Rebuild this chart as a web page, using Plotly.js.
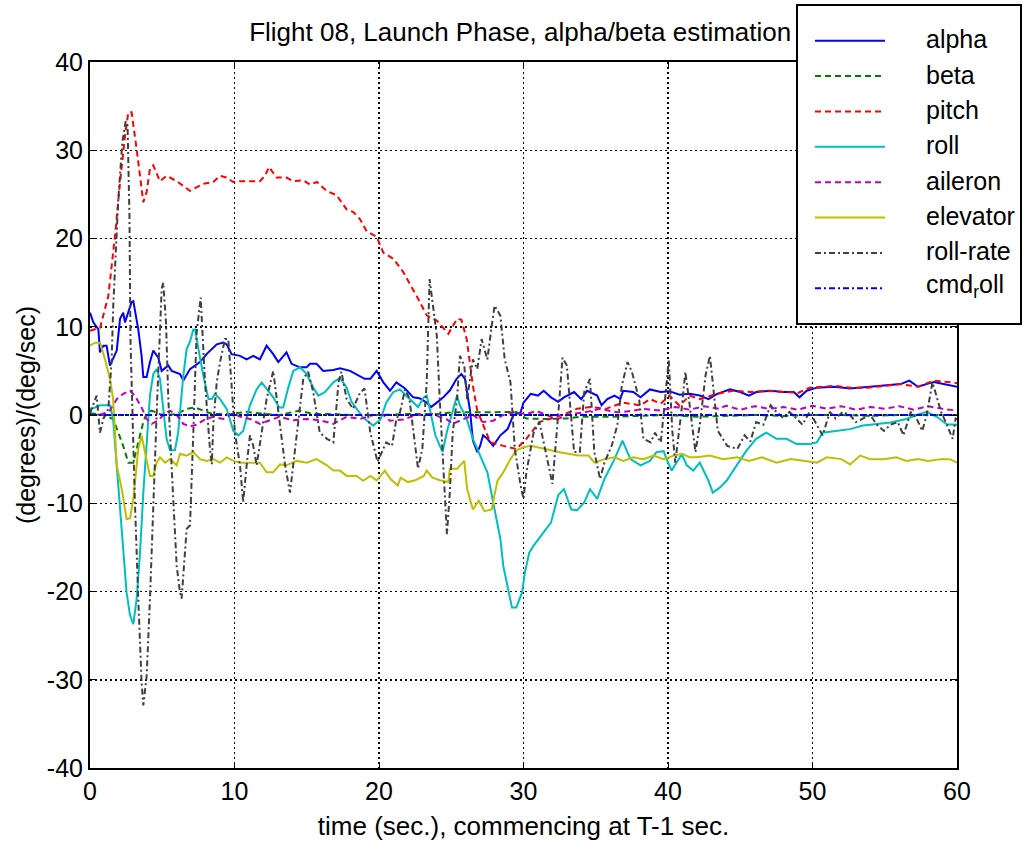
<!DOCTYPE html>
<html>
<head>
<meta charset="utf-8">
<script src="https://cdn.plot.ly/plotly-3.0.1.min.js"></script>
<style>
html,body{margin:0;padding:0;background:#fff;}
#chart{width:1024px;height:848px;}
</style>
</head>
<body>
<div id="chart"></div>
<script>
// ---- data ----
const seriesNames = ["alpha", "beta", "pitch", "roll", "aileron", "elevator", "roll-rate", "cmd_roll"];

const alphaT = [0,0.23,0.58,0.69,0.92,1.15,1.38,1.61,1.85,2.08,2.3,2.42,2.65,2.88,3.0,3.34,3.57,3.69,3.92,4.15,4.38,4.73,4.96,5.42,5.65,6.23,6.46,6.92,7.61,8.07,8.77,9.23,9.46,9.8,10.38,10.84,11.3,11.76,12.22,12.68,13.03,13.6,13.95,14.53,14.99,15.22,15.68,16.14,16.84,17.3,18.0,18.45,19.0,19.4,19.84,20.3,20.76,21.2,21.8,22.37,22.8,23.3,23.6,24.0,24.45,24.91,25.37,25.7,25.95,26.3,26.5,26.8,27.0,27.2,27.5,27.9,28.4,28.9,29.3,29.8,30.0,30.5,31.0,31.4,31.9,32.4,32.8,33.5,34.0,34.4,35.1,35.4,35.8,36.3,36.7,36.9,37.6,38.1,38.75,39.5,40.1,40.8,41.5,42.2,42.8,43.4,44.3,45.0,45.6,46.1,47.1,48.0,48.7,49.1,49.6,50.3,51.5,52.6,53.8,54.95,56.1,56.7,57.3,58.4,59.1,60];
const alphaV = [11.6,10.5,9.7,7.1,7.85,7.85,5.6,6.5,7.3,10.9,11.6,10.5,11.6,12.8,12.9,9.7,6.7,4.3,4.3,6.0,7.3,6.5,5.0,5.6,5.0,4.65,3.9,5.2,6.0,6.9,8.0,8.2,8.0,6.9,6.7,6.3,6.7,6.3,7.85,6.9,6.0,7.1,5.8,5.4,5.4,5.8,5.8,5.0,5.1,5.3,5.0,4.6,4.1,4.1,5.0,3.7,2.75,3.7,3.0,2.0,1.9,1.4,0.9,1.4,2.0,2.8,4.1,4.65,4.1,0.5,-2.9,-4.2,-3.5,-2.3,-2.7,-3.5,-2.3,-1.6,0,0.3,1.4,2.4,2.2,2.75,2.0,1.5,2.0,2.6,1.8,2.75,2.2,1.1,1.8,2.2,1.8,2.75,2.6,2.0,2.9,2.6,2.7,2.3,2.4,2.2,1.8,2.4,2.9,2.6,2.2,2.6,2.75,2.6,2.6,2.0,2.75,3.1,3.2,3.0,3.2,3.35,3.5,3.9,3.2,3.75,3.5,3.2];

const betaT = [0,0.9,1.6,1.96,2.3,2.65,3.0,3.34,3.69,3.92,4.27,4.84,5.3,6.0,6.69,7.27,7.84,8.5,9.7,10.84,12.2,13.1,14.5,15.45,16.6,18,20,22,24,25,27.2,28.6,29.5,30.2,31.5,33,34,36,38,40,42,44,46,48,50,52,54,56,58,60];
const betaV = [0.2,0,-0.45,-2.0,-3.5,-5.4,-5.4,-3.1,-0.8,0.2,0.5,0.1,0,0.1,0.7,0.85,0.5,0.1,0.1,0.35,0.1,0,0.5,0.1,0.1,0,0,0.1,0.1,0.3,0.3,0.35,0.35,-0.4,-0.45,-0.4,-0.2,-0.2,-0.1,0,-0.2,-0.1,0,-0.1,0,0,-0.1,0,0,0];

const pitchT = [0,0.7,1.27,1.73,2.08,2.42,2.65,2.88,3.23,3.69,3.92,4.15,4.38,4.84,5.3,6.0,6.92,7.84,8.53,9.0,9.46,9.92,10.4,11.76,12.1,12.4,12.9,13.6,14.07,14.76,15.22,15.7,16.38,17.07,17.76,18.22,18.68,19.15,19.84,20.3,20.99,21.68,22.6,23.3,24.0,24.8,25.4,25.7,26.07,26.5,26.8,27.2,27.7,28.6,29.5,30.2,31.1,31.8,32.7,33.7,34.6,35.7,36.9,38.1,38.75,39.5,40.1,40.8,41.5,42.2,43.4,44.5,45.7,46.9,48.0,49.0,49.8,51.5,52.6,53.8,55.0,56.1,57.3,58.4,59.6,60];
const pitchV = [9.55,9.9,13.5,20.3,26.4,31.6,34.3,34.3,30.1,24.1,25.3,27.9,28.3,26.5,27.1,26.5,25.4,26.2,26.4,27.1,26.9,26.4,26.5,26.5,27.1,28.1,26.9,26.9,26.5,26.6,26.1,26.4,25.4,24.9,23.3,23.0,22.2,20.8,20.2,18.4,17.7,16.2,13.5,11.3,10.7,9.2,10.9,10.8,8.6,3.3,0.5,-1.2,-3.1,-3.5,-3.85,-2.7,-0.8,-0.45,0,0.7,0.9,0.7,1.4,1.1,1.8,1.3,2.2,1.05,2.2,1.8,2.4,2.75,2.6,2.75,2.6,2.5,3.1,3.3,3.1,3.1,3.3,3.5,3.2,3.9,3.7,3.6];

const rollT = [0,0.35,0.7,1.38,1.6,1.85,2.08,2.3,2.53,2.77,3.0,3.23,3.46,3.69,3.92,4.15,4.38,4.61,4.84,5.07,5.3,5.54,5.88,6.1,6.46,6.69,6.92,7.15,7.27,7.5,7.84,8.2,8.43,8.65,9.0,9.46,9.92,10.27,10.6,11.07,11.53,11.88,12.22,12.68,13.1,13.37,13.72,14.07,14.53,14.99,15.45,15.8,16.26,16.84,17.3,17.76,18.1,18.57,18.9,19.6,20.1,20.5,20.99,21.45,21.9,22.4,22.7,23.1,23.3,23.5,23.9,24.4,24.7,25.4,25.6,26.07,26.5,27.0,27.5,27.9,28.4,28.6,28.97,29.2,29.5,29.9,30.1,30.4,30.7,31.1,31.4,31.9,32.4,32.8,33.3,33.7,34.2,34.6,35.1,35.6,36.3,36.85,37.4,38.1,38.75,39.2,39.7,39.9,40.25,40.6,40.95,41.3,41.75,42.2,42.8,43.1,43.6,44.05,44.75,45.4,46.1,46.8,47.5,48.2,48.9,49.8,50.3,50.7,51.6,52.6,53.5,54.45,55.4,56.5,57.2,57.9,58.6,59.3,60];
const rollV = [0.7,0.85,1.1,1.1,-0.45,-5.7,-10.3,-15.2,-20.1,-22.7,-23.7,-20.8,-15.6,-8.8,-2.7,2.2,4.65,5.2,4.1,0.7,-2.7,-4.0,-4.0,-2.0,4.5,7.5,8.3,9.7,9.7,7.5,4.5,1.8,1.8,2.4,1.8,0.7,-1.8,-2.3,-1.8,1.1,2.9,3.7,3.0,2.0,0.85,0.85,3.1,5.0,5.4,4.65,3.1,2.2,2.6,3.7,4.2,3.1,1.5,0.5,-0.3,-1.2,-0.5,1.4,2.6,2.9,2.2,1.4,0.9,2.0,2.2,0.8,-2.3,-4.2,-1.9,2.2,1.1,-0.45,-2.7,-4.6,-6.5,-9.9,-14.05,-17.1,-20.1,-21.8,-21.8,-20.1,-17.8,-15.6,-14.8,-13.9,-13.3,-12.2,-9.1,-8.4,-10.7,-10.8,-9.9,-8.4,-9.5,-7.25,-5.0,-2.9,-5.0,-5.7,-5.2,-4.2,-4.1,-5.0,-6.3,-5.4,-4.45,-5.7,-6.3,-5.4,-7.45,-8.8,-8.2,-7.45,-5.7,-4.1,-2.7,-2.0,-2.7,-2.7,-3.3,-3.3,-3.1,-2.0,-1.8,-1.6,-1.2,-1.05,-0.85,-0.45,0,0.35,-0.2,-1.05,-1.1];

const aileronT = [0,0.7,1.38,1.85,2.3,2.77,3.1,3.57,3.92,4.27,4.73,5.2,5.54,6.0,6.46,6.92,7.38,7.84,8.5,9.23,9.92,10.4,11.07,11.76,12.45,13.1,14.07,15.0,15.9,16.84,17.76,18.7,19.6,20.3,20.76,21.68,22.6,23.7,24.7,25.1,25.8,26.5,27.2,27.9,28.6,29.3,30.2,30.9,31.6,32.3,33.2,34.2,35.3,36.5,37.4,38.3,39.5,40.5,41.5,42.5,43.5,44.0,45.0,46.0,47.0,48.0,49.0,50.0,51.0,52.0,53.0,54.0,55.0,56.0,57.0,58.0,59.0,60.0];
const aileronV = [0,0,0.5,1.8,2.4,2.75,2.2,0.85,-0.45,-1.0,-0.6,0.2,0.5,0,-1.0,-1.3,-1.1,-0.6,-0.2,-0.45,0.2,-0.2,-0.45,-1.0,-0.6,-0.2,-0.6,-0.45,-0.6,-1.0,-0.2,-0.45,0,0,-0.65,-0.5,0,0.1,-0.5,-1.0,-0.5,0,-0.8,-0.65,0,0.3,0.1,0.45,0,-0.5,0.1,0.3,0.7,0.3,0.45,0.7,0.5,0.9,0.6,1.0,0.7,1.05,0.6,1.0,0.7,0.9,0.6,1.05,0.7,1.0,0.6,0.9,0.7,1.0,0.6,1.0,0.7,0.5];

const elevatorT = [0,0.35,0.7,1.04,1.38,1.6,1.73,1.85,2.2,2.53,2.77,3.0,3.34,3.57,3.8,4.15,4.38,4.61,4.84,5.2,5.54,6.0,6.23,6.69,7.15,7.61,8.07,8.53,9.0,9.46,9.92,10.38,11.07,11.76,12.22,12.68,13.15,13.6,14.3,15.0,15.68,16.4,16.84,17.3,17.76,18.45,18.9,19.4,19.84,20.4,20.8,21.3,21.5,22.0,22.5,23.1,23.3,23.7,24.2,24.8,24.9,25.4,25.9,26.1,26.5,26.9,27.3,27.8,28.0,28.2,28.6,29.1,29.5,30.0,30.5,31.0,31.4,31.9,32.4,33.1,33.8,34.5,34.9,35.6,36.3,36.9,37.6,38.3,39.0,39.7,40.4,41.0,41.5,42.0,42.9,43.8,44.8,45.6,46.5,47.5,48.5,49.5,50.3,51.0,52.0,52.6,53.3,54.0,54.95,55.8,56.5,57.3,58.0,58.9,59.5,60];
const elevatorV = [7.85,8.2,8.2,6.3,4.1,1.8,-2.0,-5.7,-8.4,-11.8,-11.7,-9.5,-3.85,-2.35,-4.2,-6.9,-6.9,-5.4,-4.8,-5.4,-5.0,-5.7,-4.4,-4.6,-4.2,-5.0,-5.2,-5.0,-5.4,-4.8,-5.2,-5.4,-5.4,-5.4,-6.5,-6.5,-5.6,-5.7,-5.2,-5.4,-5.0,-5.7,-6.3,-6.3,-6.9,-6.9,-7.45,-6.9,-7.4,-6.3,-7.25,-8.0,-7.1,-7.6,-7.4,-6.9,-6.3,-7.1,-7.4,-7.6,-6.1,-6.1,-5.2,-8.4,-10.7,-9.7,-10.9,-10.7,-9.0,-7.45,-6.5,-5.0,-4.0,-3.65,-3.5,-3.65,-3.85,-4.0,-4.2,-4.4,-4.6,-4.6,-5.4,-5.0,-4.8,-5.2,-4.8,-5.0,-4.6,-5.0,-4.6,-4.4,-4.8,-4.8,-4.6,-5.0,-4.8,-5.2,-4.8,-5.4,-5.0,-5.2,-5.4,-4.8,-5.0,-5.6,-4.6,-5.0,-5.0,-4.8,-5.2,-5.0,-5.2,-5.0,-5.0,-5.4];

const rollRateT = [0,0.46,0.69,0.92,1.27,1.5,1.61,1.96,2.24,2.47,2.6,2.73,2.8,3.1,3.34,3.57,3.69,3.92,4.15,4.38,4.65,4.96,5.07,5.26,5.42,5.76,6.0,6.23,6.34,6.69,6.92,7.15,7.38,7.66,7.96,8.3,8.43,8.53,8.77,9.0,9.34,9.57,9.8,10.03,10.38,10.6,10.84,11.07,11.3,11.53,11.88,12.22,12.68,13.15,13.5,13.84,14.3,14.76,15.1,15.45,15.9,16.4,16.84,17.2,17.4,17.76,18.2,18.68,19.0,19.4,19.9,20.5,20.9,21.2,21.45,21.8,22.1,22.4,22.7,23.0,23.3,23.5,23.8,24.0,24.2,24.45,24.7,24.9,25.1,25.4,25.6,25.9,26.1,26.5,26.8,27.1,27.5,27.8,28.0,28.4,28.7,29.1,29.4,29.8,30.0,30.2,30.7,31.1,31.4,31.8,32.0,32.4,32.7,33.0,33.2,33.5,33.9,34.2,34.6,34.9,35.3,35.6,36.1,36.5,36.8,37.2,37.5,38.0,38.3,38.8,39.1,39.5,39.8,40.05,40.3,40.5,40.9,41.2,41.5,41.9,42.2,42.6,42.9,43.2,43.45,44.1,44.8,45.3,45.7,46.1,46.6,47.1,47.5,48.0,48.4,48.9,49.3,49.8,50.3,50.7,51.2,51.6,52.1,52.6,53.0,53.5,54.0,54.45,54.95,55.4,55.9,56.3,56.8,57.2,57.6,57.9,58.3,58.5,58.9,59.3,59.7,59.9,60];
const rollRateV = [0.2,2.2,-2.0,-0.45,0.7,6.3,12.4,24.5,30.9,33.3,32.8,22.6,8.6,-9.5,-20.8,-30.3,-32.9,-29.6,-20.8,-9.5,1.8,14.3,15.0,10.5,1.8,-9.5,-17.1,-20.1,-20.8,-12.9,-12.5,-2.0,9.4,13.3,3.7,-3.85,-5.6,-1.1,3.7,6.0,8.6,8.6,3.7,-2.0,-5.7,-9.9,-5.7,-2.3,-3.5,-5.7,-2.0,1.8,5.0,-0.8,-5.7,-8.8,-2.0,4.1,4.9,2.6,-2.0,-2.7,-3.1,3.7,4.9,1.8,0.7,2.5,3.0,-2.0,-5.3,-3.1,-3.5,-0.5,0.3,2.9,1.9,-2.0,-6.1,-3.8,3.7,15.4,11.25,9.0,1.9,-6.0,-13.5,-8.8,-2.0,1.8,6.7,5.6,1.8,6.3,5.2,8.6,6.3,10.1,12.4,11.25,6.3,3.7,-3.85,-8.0,-9.5,-6.5,-2.0,-0.8,-3.1,-6.5,-7.8,0,6.5,5.6,1.8,-4.2,-4.2,2.6,4.1,-4.2,-7.25,-5.4,-3.5,-1.1,3.3,6.0,4.9,1.8,-2.7,-3.1,-2.0,-3.1,1.8,6.3,-1.8,-5.4,0,4.9,1.1,-4.2,-1.1,4.5,6.7,1.8,-1.8,-3.5,-3.85,-2.3,-3.0,-0.8,-1.1,1.1,0.35,-0.4,0.35,-0.4,-1.1,0.35,-1.1,-2.3,0.35,-0.4,0.35,0,-0.8,-0.4,0,-1.1,-1.8,-1.1,-0.8,-2.3,0.35,-0.4,-1.8,0,3.7,2.6,0.35,-1.1,-2.7,-0.4,-0.5];

const cmdRollT = [0, 60];
const cmdRollV = [0, 0];

const xTickVals = [0, 10, 20, 30, 40, 50, 60];
const yTickVals = [-40, -30, -20, -10, 0, 10, 20, 30, 40];

// ---- styles ----
const FONT = '"Liberation Sans", Arial, Helvetica, sans-serif';
const styles = [
  {color: '#0000ff', dash: 'solid'},
  {color: '#008000', dash: '6px,4px'},
  {color: '#ff0000', dash: '6px,4px'},
  {color: '#00bfbf', dash: 'solid'},
  {color: '#bf00bf', dash: '6px,4px'},
  {color: '#bfbf00', dash: 'solid'},
  {color: '#404040', dash: '6px,3px,2px,3px'},
  {color: '#0000ff', dash: '6px,3px,2px,3px'}
];
const xs = [alphaT, betaT, pitchT, rollT, aileronT, elevatorT, rollRateT, cmdRollT];
const ys = [alphaV, betaV, pitchV, rollV, aileronV, elevatorV, rollRateV, cmdRollV];

const traces = seriesNames.map((n, i) => ({
  type: 'scatter', mode: 'lines', name: n,
  x: xs[i], y: ys[i],
  line: {color: styles[i].color, dash: styles[i].dash, width: 2},
  showlegend: false, hoverinfo: 'skip'
}));

// plot area in pixels
const L = 90, R = 957, T = 62, B = 768;
const px2x = p => (p - L) / (R - L);
const py2y = p => (B - p) / (B - T);

// MATLAB-style legend box
const shapes = [{
  type: 'rect', xref: 'paper', yref: 'paper', layer: 'above',
  x0: px2x(797), x1: px2x(1021), y0: py2y(324), y1: py2y(5),
  fillcolor: '#ffffff', line: {color: '#000000', width: 2}
}];
const legendLabels = ['alpha', 'beta', 'pitch', 'roll', 'aileron', 'elevator', 'roll-rate', 'cmd<sub>r</sub>oll'];
const annotations = [];
legendLabels.forEach((lab, i) => {
  const yy = 40.7 + i * 35.37;
  shapes.push({
    type: 'line', xref: 'paper', yref: 'paper', layer: 'above',
    x0: px2x(815), x1: px2x(885), y0: py2y(yy), y1: py2y(yy),
    line: {color: styles[i].color, dash: styles[i].dash, width: 2}
  });
  annotations.push({
    xref: 'paper', yref: 'paper', x: px2x(924), y: py2y(i === 7 ? yy - 2 : yy - 1.5),
    xanchor: 'left', yanchor: 'middle', showarrow: false,
    text: lab, font: {family: FONT, size: 25, color: '#000'}
  });
});

const axisCommon = {
  showline: true, linecolor: '#000', linewidth: 2, mirror: 'ticks',
  ticks: 'inside', ticklen: 6, tickwidth: 1, tickcolor: '#000',
  showgrid: true, gridcolor: '#000', gridwidth: 1.5, griddash: '2px,3px',
  zeroline: false, tickfont: {family: FONT, size: 25, color: '#000'}
};

const layout = {
  width: 1024, height: 848,
  margin: {l: L, r: 1024 - R, t: T, b: 848 - B, pad: 0},
  paper_bgcolor: '#fff', plot_bgcolor: '#fff',
  font: {family: FONT, size: 25, color: '#000'},
  title: {text: 'Flight 08, Launch Phase, alpha/beta estimation',
          font: {family: FONT, size: 26, color: '#000'},
          x: 0.508, xanchor: 'center', y: 1 - 32 / 848, yanchor: 'middle'},
  xaxis: Object.assign({}, axisCommon, {
    range: [0, 60], tickvals: xTickVals, ticktext: xTickVals.map(String),
    title: {text: 'time (sec.), commencing at T-1 sec.', font: {family: FONT, size: 26, color: '#000'}, standoff: 13}
  }),
  yaxis: Object.assign({}, axisCommon, {
    range: [-40, 40], tickvals: yTickVals, ticktext: yTickVals.map(String),
    title: {text: '(degrees)/(deg/sec)', font: {family: FONT, size: 25, color: '#000'}, standoff: 4}
  }),
  shapes: shapes,
  annotations: annotations,
  showlegend: false
};

Plotly.newPlot('chart', traces, layout, {displayModeBar: false, staticPlot: true});
</script>
</body>
</html>
